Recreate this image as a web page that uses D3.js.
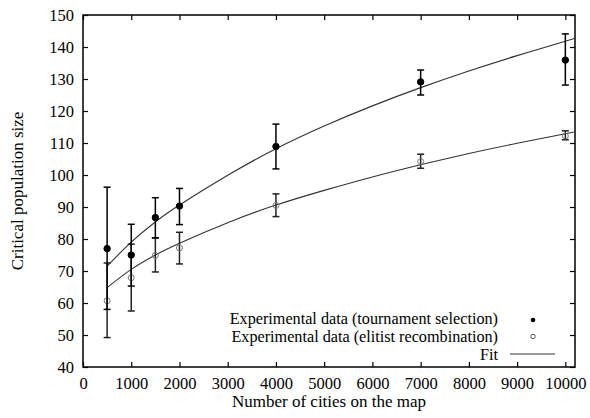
<!DOCTYPE html>
<html>
<head>
<meta charset="utf-8">
<script src="https://cdn.jsdelivr.net/npm/d3@7.9.0/dist/d3.min.js"></script>
<style>
  body { margin: 0; background: #fff; }
  svg { display: block; font-family: "Liberation Serif", "Times New Roman", serif; }
</style>
</head>
<body>
<div id="chart"></div>
<script>
// Values
const cities = [500, 1000, 1500, 2000, 4000, 7000, 10000];

const tournamentMean = [77, 75, 86.7, 90.3, 108.9, 129.1, 135.9];
const tournamentLow = [58, 65.3, 80.4, 84.5, 101.9, 125, 128.1];
const tournamentHigh = [96.2, 84.6, 92.9, 95.8, 115.9, 132.8, 144.1];

const elitistMean = [60.7, 67.9, 74.9, 77.2, 90.5, 104.2, 112.2];
const elitistLow = [49.2, 57.5, 69.7, 72.2, 87, 102.1, 111];
const elitistHigh = [72.5, 78.4, 80.3, 82.1, 94.1, 106.5, 113.8];

// fitted curves
const fitX = [500, 1000, 1500, 2000, 3000, 4000, 5000, 6000, 7000, 8000, 9000, 10000, 10200];
const fitTournament = [71.5, 79, 85.3, 90.6, 99.9, 108.2, 115.3, 121.6, 127.3, 132.5, 137.3, 141.8, 142.7];
const fitElitist = [64.8, 70.5, 75, 78.7, 85.1, 90.6, 95.2, 99.4, 103.2, 106.7, 109.9, 112.9, 113.5];

const xTicks = d3.range(0, 10001, 1000);
const yTicks = d3.range(40, 151, 10);

const legendLabels = [
  "Experimental data (tournament selection)",
  "Experimental data (elitist recombination)",
  "Fit"
];

const W = 590, H = 418;
const margin = { top: 15, right: 15, bottom: 51, left: 83 };
const font = "Liberation Serif, Times New Roman, serif";

const svg = d3.select("#chart").append("svg")
  .attr("width", W)
  .attr("height", H);

const x = d3.scaleLinear().domain([0, 10200]).range([margin.left, W - margin.right]);
const y = d3.scaleLinear().domain([40, 150]).range([H - margin.bottom, margin.top]);

const tickLen = 5;

function styleAxis(g) {
  g.attr("font-family", font).attr("font-size", 16.5);
  g.select(".domain").remove();
  g.selectAll(".tick text").attr("fill", "#000").style("font-family", font);
  g.selectAll(".tick line").attr("stroke", "#000").attr("stroke-width", 1.2);
}

// axes (ticks pointing inward, mirrored on top/right)
svg.append("g")
  .attr("transform", `translate(0,${y(40)})`)
  .call(d3.axisBottom(x).tickValues(xTicks).tickSize(-tickLen).tickPadding(10).tickFormat(d3.format("d")))
  .call(styleAxis);

svg.append("g")
  .attr("transform", `translate(0,${y(150)})`)
  .call(d3.axisTop(x).tickValues(xTicks).tickSize(-tickLen).tickFormat(""))
  .call(styleAxis);

svg.append("g")
  .attr("transform", `translate(${x(0)},0)`)
  .call(d3.axisLeft(y).tickValues(yTicks).tickSize(-tickLen).tickPadding(9))
  .call(styleAxis);

svg.append("g")
  .attr("transform", `translate(${x(10200)},0)`)
  .call(d3.axisRight(y).tickValues(yTicks).tickSize(-tickLen).tickFormat(""))
  .call(styleAxis);

// frame
svg.append("rect")
  .attr("x", x(0))
  .attr("y", y(150))
  .attr("width", x(10200) - x(0))
  .attr("height", y(40) - y(150))
  .attr("fill", "none")
  .attr("stroke", "#000")
  .attr("stroke-width", 1.5);

// axis titles
svg.append("text")
  .attr("x", (x(0) + x(10200)) / 2)
  .attr("y", 407)
  .attr("text-anchor", "middle")
  .attr("font-size", 17)
  .text("Number of cities on the map");

svg.append("text")
  .attr("transform", "rotate(-90)")
  .attr("x", -(y(40) + y(150)) / 2)
  .attr("y", 23)
  .attr("text-anchor", "middle")
  .attr("font-size", 17)
  .text("Critical population size");

// fit lines
const line = d3.line()
  .x(d => x(d[0]))
  .y(d => y(d[1]))
  .curve(d3.curveNatural);

[fitTournament, fitElitist].forEach(vals => {
  svg.append("path")
    .datum(fitX.map((v, i) => [v, vals[i]]))
    .attr("d", line)
    .attr("fill", "none")
    .attr("stroke", "#333")
    .attr("stroke-width", 1.1);
});

// error bars + points
function drawSeries(mean, low, high, filled) {
  const data = cities.map((c, i) => ({ c, m: mean[i], lo: low[i], hi: high[i] }));
  const g = svg.append("g");
  const cap = 3.5;
  const stroke = filled ? "#000" : "#222";
  g.selectAll(".bar").data(data).enter().append("line")
    .attr("x1", d => x(d.c)).attr("x2", d => x(d.c))
    .attr("y1", d => y(d.lo)).attr("y2", d => y(d.hi))
    .attr("stroke", stroke).attr("stroke-width", 1.5);
  g.selectAll(".capHi").data(data).enter().append("line")
    .attr("x1", d => x(d.c) - cap).attr("x2", d => x(d.c) + cap)
    .attr("y1", d => y(d.hi)).attr("y2", d => y(d.hi))
    .attr("stroke", stroke).attr("stroke-width", 1.5);
  g.selectAll(".capLo").data(data).enter().append("line")
    .attr("x1", d => x(d.c) - cap).attr("x2", d => x(d.c) + cap)
    .attr("y1", d => y(d.lo)).attr("y2", d => y(d.lo))
    .attr("stroke", stroke).attr("stroke-width", 1.5);
  g.selectAll("circle").data(data).enter().append("circle")
    .attr("cx", d => x(d.c))
    .attr("cy", d => y(d.m))
    .attr("r", filled ? 3.2 : 3)
    .attr("fill", filled ? "#000" : "#fff")
    .attr("fill-opacity", filled ? 1 : 0)
    .attr("stroke", filled ? "#000" : "#777")
    .attr("stroke-width", 1);
}

drawSeries(elitistMean, elitistLow, elitistHigh, false);
drawSeries(tournamentMean, tournamentLow, tournamentHigh, true);

// legend
const legendX = 498;
const legendY = [324, 342, 360];
legendLabels.forEach((t, i) => {
  svg.append("text")
    .attr("x", legendX)
    .attr("y", legendY[i])
    .attr("text-anchor", "end")
    .attr("font-size", 16.2)
    .text(t);
});
svg.append("circle")
  .attr("cx", 533).attr("cy", legendY[0] - 4).attr("r", 2.3)
  .attr("fill", "#000");
svg.append("circle")
  .attr("cx", 533).attr("cy", legendY[1] - 5.5).attr("r", 2.2)
  .attr("fill", "none").attr("stroke", "#555").attr("stroke-width", 1);
svg.append("line")
  .attr("x1", 510).attr("x2", 555)
  .attr("y1", legendY[2] - 6).attr("y2", legendY[2] - 6)
  .attr("stroke", "#333").attr("stroke-width", 1.1);
</script>
</body>
</html>
